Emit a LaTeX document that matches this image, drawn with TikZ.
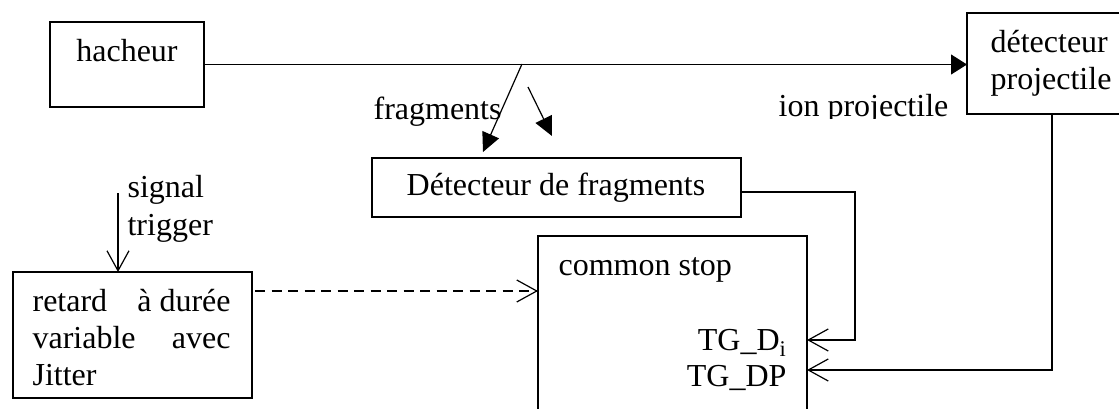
\documentclass[tikz,border=0pt]{standalone}
\usepackage{fontspec}
\setmainfont{Liberation Serif}
\usetikzlibrary{arrows.meta}
\begin{document}
\begin{tikzpicture}[x=1pt,y=-1pt,line width=1.2pt,
  box/.style={draw,line width=1.2pt,inner sep=0pt,outer sep=0pt,anchor=north west},
  txt/.style={inner sep=0pt,font=\fontsize{32pt}{37pt}\selectfont},
  filled/.style={-{Triangle[length=16pt,width=20pt]}},
  fragarrow/.style={-{Triangle[length=19pt,width=18pt]}},
  open/.style={-{Straight Barb[length=20pt,width=22pt,line width=1.2pt]}},
  dashedarrow/.style={open,dash pattern=on 10pt off 6.5pt}]
\useasboundingbox (0,0) rectangle (1119,409);
\clip (0,0) rectangle (1119,409);
% boxes
\node[box,minimum width=154pt,minimum height=85pt] (hacheur) at (50,22) {};
\node[box,minimum width=170pt,minimum height=101pt] (proj) at (967,13) {};
\node[box,minimum width=369pt,minimum height=59pt] (frag) at (372,158) {};
\node[box,minimum width=269pt,minimum height=200pt] (cs) at (538,236) {};
\node[box,minimum width=239pt,minimum height=126pt] (retard) at (13,272) {};
% texts
\node[txt,anchor=base] (thach) at (127,62) {hacheur};
\node[txt,anchor=base west] (tdet) at (990,53) {détecteur};
\node[txt,anchor=base west] (tproj) at (990,90) {projectile};
\begin{scope}
\clip (700,0) rectangle (960,119);
\node[txt,anchor=base west] (tion) at (778,117) {ion projectile};
\end{scope}
\node[txt,anchor=base west] (tfrag) at (373,120) {fragments};
\node[txt,anchor=base] (tdetfrag) at (556,195) {Détecteur de fragments};
\node[txt,anchor=base west] (tsig) at (127,197) {signal};
\node[txt,anchor=base west] (ttrig) at (127,235) {trigger};
\node[txt,anchor=base west] (tr1) at (32,311) {\makebox[198pt][s]{retard\hfill à durée}};
\node[txt,anchor=base west] (tr2) at (32,348) {\makebox[198pt][s]{variable\hfill avec}};
\node[txt,anchor=base west] (tr3) at (32,385) {Jitter};
\node[txt,anchor=base west] (tcs) at (558,275) {common stop};
\node[txt,anchor=base east] (tgdi) at (787,350) {TG\_D\textsubscript{i}};
\node[txt,anchor=base east] (tgdp) at (787,386) {TG\_DP};
% coordinates
\coordinate (f1s) at (522,64);
\coordinate (f1e) at (483,152);
\coordinate (f2s) at (528,87);
\coordinate (f2e) at (552,136);
\coordinate (c1) at (855,340);
\coordinate (indi) at (807,340);
\coordinate (indp) at (807,370);
\coordinate (sig) at (118,193);
\coordinate (csin) at (538,291);
% connectors
\draw[filled] (hacheur.east) -- (hacheur.east -| proj.west);
\draw[fragarrow] (f1s) -- (f1e);
\draw[fragarrow] (f2s) -- (f2e);
\draw[open] ([yshift=-4.5pt]frag.east) -| (c1) -- (indi);
\draw[open] (proj.south) |- (indp);
\draw[open] (sig) -- (sig |- retard.north);
\draw[dashedarrow] ([yshift=44pt,xshift=3pt]retard.east) -- (csin);
\end{tikzpicture}
\end{document}
